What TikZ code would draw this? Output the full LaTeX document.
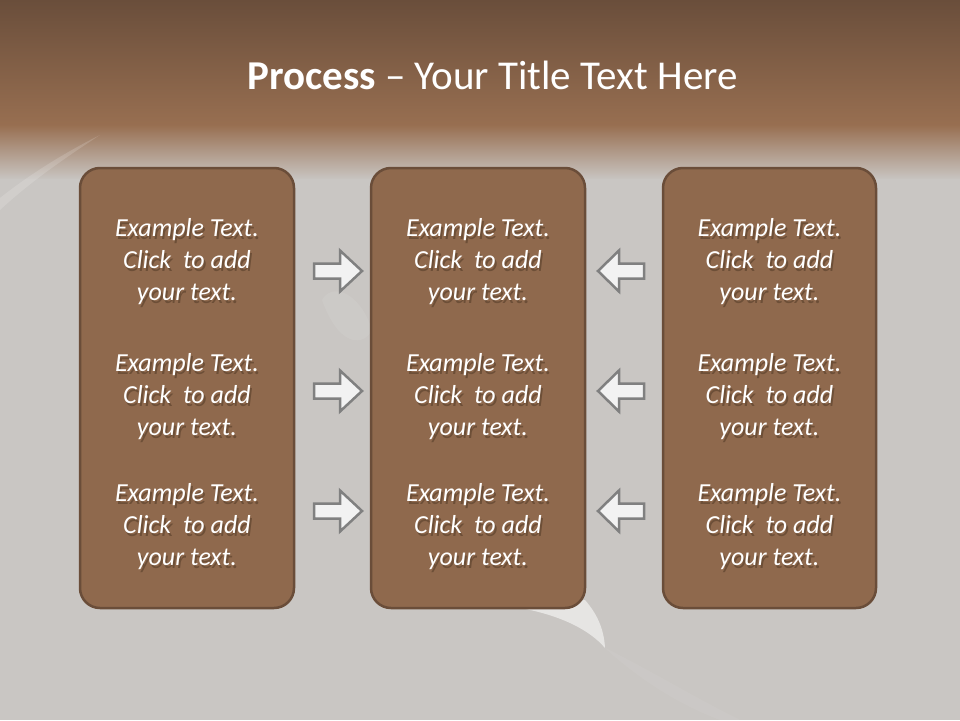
\documentclass[tikz,border=0pt]{standalone}
\usepackage{fontspec}
\setmainfont{Carlito}
\definecolor{bgtop}{HTML}{6A4E3B}
\definecolor{bgbrown}{HTML}{986F51}
\definecolor{bggray}{HTML}{C9C6C3}
\definecolor{boxfill}{HTML}{8F694D}
\definecolor{boxline}{HTML}{6A4D39}
\definecolor{arrfill}{HTML}{F2F2F2}
\definecolor{arrline}{HTML}{808080}
\definecolor{shadowc}{HTML}{3A2818}
\tikzset{
  panel/.style={draw=boxline, line width=2.5pt, fill=boxfill, rounded corners=20pt},
  blockarrow/.style={draw=arrline, fill=arrfill, line width=2.5pt, line join=miter},
  bodytext/.style={text=white, align=center, font=\fontsize{26}{32}\selectfont\itshape},
  shadowtext/.style={text=shadowc, opacity=0.4, align=center, font=\fontsize{26}{32}\selectfont\itshape},
}
\newcommand{\sampletext}{Example Text.\\Click\ \ to add\\your text.}
\begin{document}
\begin{tikzpicture}[x=1pt,y=-1pt]
\useasboundingbox (0,0) rectangle (960,720);
% background
\fill[top color=bgtop, bottom color=bgbrown] (0,0) rectangle (960,126);
\fill[top color=bgbrown, bottom color=bggray] (0,125) rectangle (960,180);
\fill[bggray] (0,179) rectangle (960,720);
% faint light streaks
\fill[white, opacity=0.15] (0,198) .. controls (25,178) and (60,155) .. (100,135) .. controls (65,158) and (30,182) .. (0,210) -- cycle;
\fill[white, opacity=0.07] (322,300) .. controls (332,282) and (360,292) .. (372,330) .. controls (365,345) and (340,350) .. (322,300) -- cycle;
\fill[white, opacity=0.55] (520,608) .. controls (560,615) and (590,630) .. (605,648) .. controls (604,630) and (598,615) .. (585,600) -- cycle;
\fill[white, opacity=0.05] (605,648) .. controls (640,680) and (680,705) .. (720,720) -- (740,720) .. controls (690,695) and (650,670) .. (605,648) -- cycle;
% title
\node (title) at (492.5,75) {\fontsize{41}{48}\selectfont\color{white}\textbf{Process} – Your Title Text Here};
% panels
\node[panel, minimum width=214pt, minimum height=440pt] (left) at (187,388) {};
\node[panel, minimum width=214pt, minimum height=440pt] (mid) at (478,388) {};
\node[panel, minimum width=213pt, minimum height=440pt] (right) at (769.5,388) {};
% texts
\foreach \cx/\nm in {187/l,478/m,769.5/r}{
  \foreach \cy/\k in {262/1,397/2,527/3}{
    \node[shadowtext] at (\cx+1.8,\cy+2.2) {\sampletext};
    \node[bodytext] (t\nm\k) at (\cx,\cy) {\sampletext};
  }
}
% arrows
\foreach \cy/\k in {271/1,391/2,511/3}{
  \draw[blockarrow] (314,\cy-7.5) -- (340,\cy-7.5) -- (340,\cy-20.5) -- (362,\cy) -- (340,\cy+20.5) -- (340,\cy+7.5) -- (314,\cy+7.5) -- cycle;
  \draw[blockarrow] (644,\cy-7.5) -- (619,\cy-7.5) -- (619,\cy-20.5) -- (598,\cy) -- (619,\cy+20.5) -- (619,\cy+7.5) -- (644,\cy+7.5) -- cycle;
}
\end{tikzpicture}
\end{document}
